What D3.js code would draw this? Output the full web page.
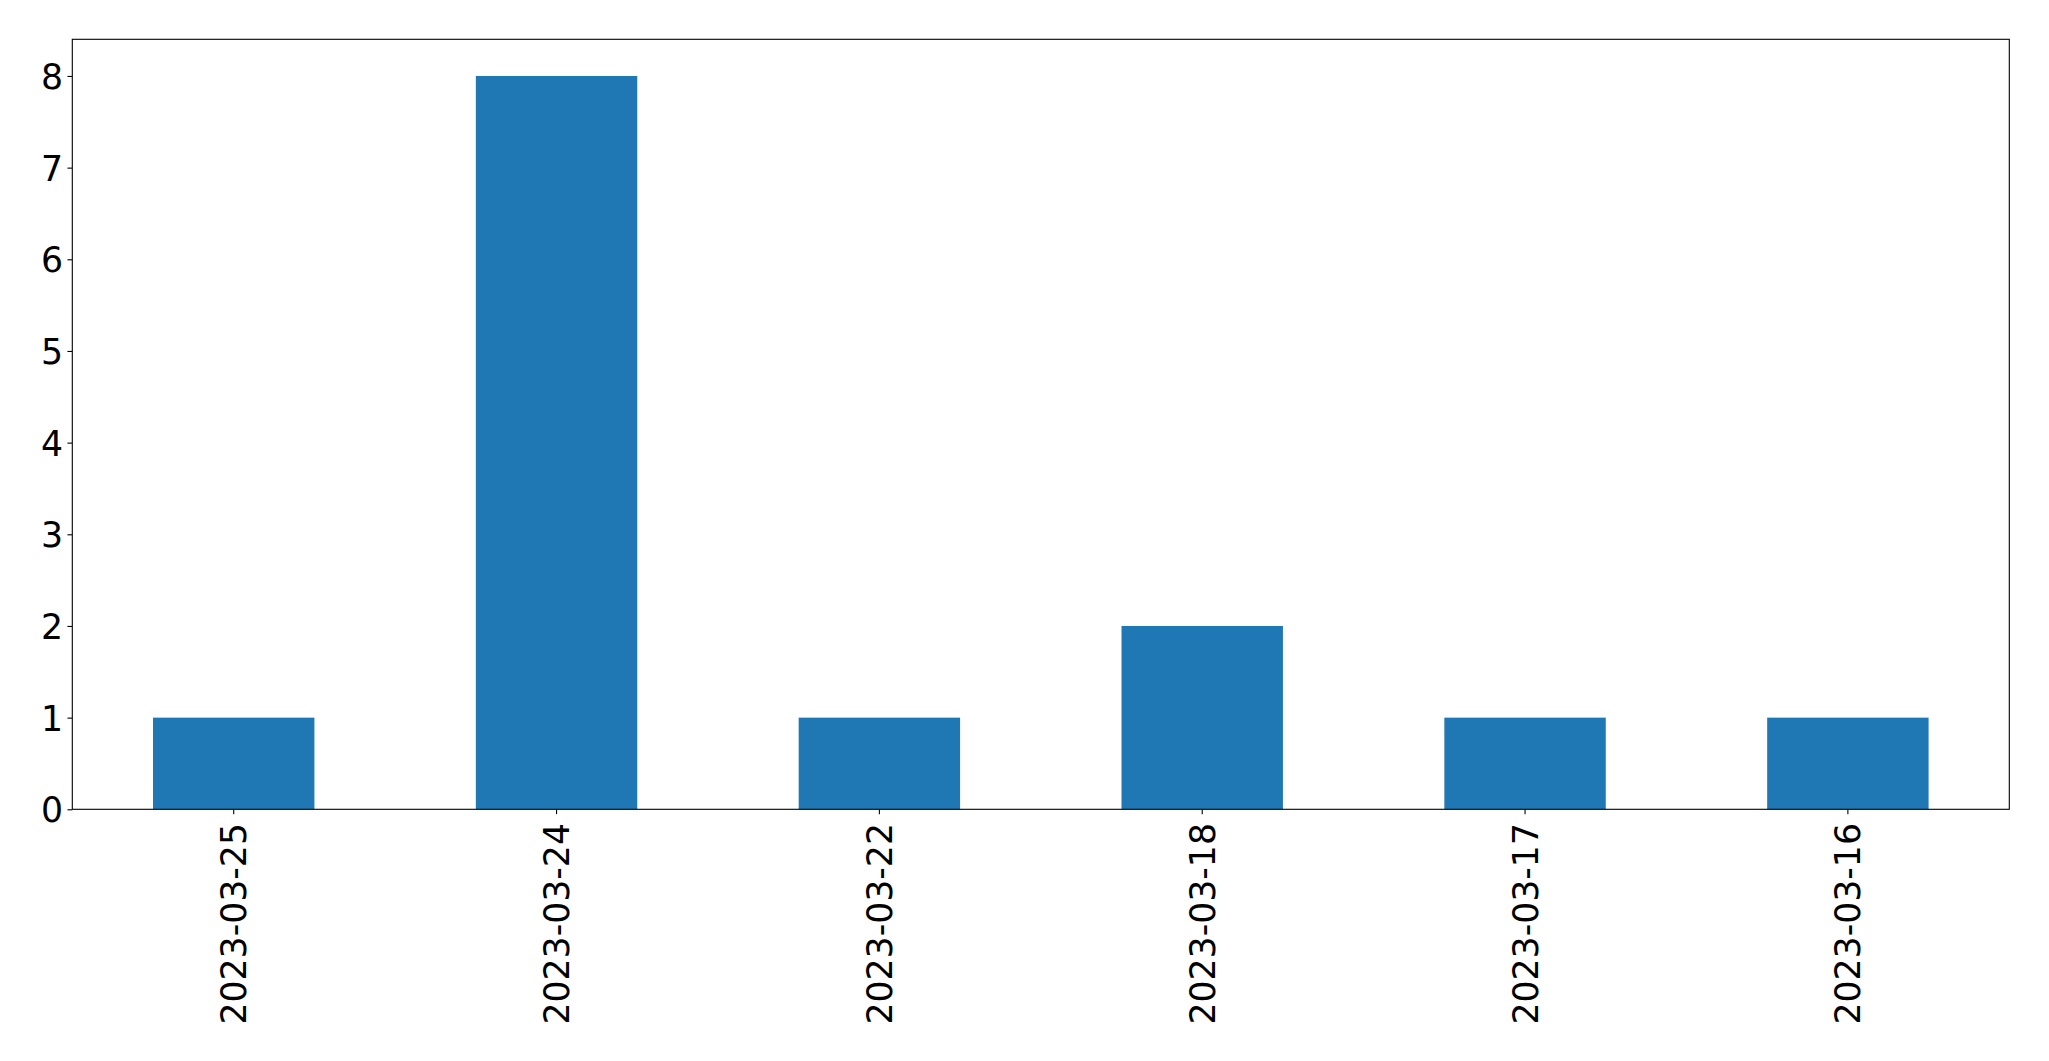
<!DOCTYPE html>
<html>
<head>
<meta charset="utf-8">
<script src="https://cdn.jsdelivr.net/npm/d3@7"></script>
<style>
html,body{margin:0;padding:0;background:#fff;}
svg{display:block;}
text{font-family:"DejaVu Sans",sans-serif;fill:#000;}
</style>
</head>
<body>
<script>
const categories = ["2023-03-25","2023-03-24","2023-03-22","2023-03-18","2023-03-17","2023-03-16"];
const values = [1,8,1,2,1,1];
const yTicks = [0,1,2,3,4,5,6,7,8];

(function(){
const W = 2049, H = 1061;
const mLeft = 72.3, mRight = 2009.3, mTop = 39.3, mBottom = 809.3;
const fs = 34.7;
const tickLen = 4.86, pad = 4.86;

const svg = d3.select("body").append("svg").attr("width", W).attr("height", H);

const x = d3.scaleBand().domain(categories).range([mLeft, mRight]).paddingInner(0.5).paddingOuter(0.25);
const y = d3.scaleLinear().domain([0, 8.4]).range([mBottom, mTop]);

svg.append("g").selectAll("rect").data(values).join("rect")
  .attr("x", (d,i) => x(categories[i]))
  .attr("width", x.bandwidth())
  .attr("y", d => y(d))
  .attr("height", d => y(0) - y(d))
  .attr("fill", "#1f77b4");

// y axis
const yAxis = d3.axisLeft(y).tickValues(yTicks).tickSize(tickLen).tickPadding(pad).tickFormat(d3.format("d"));
const gy = svg.append("g").attr("transform", `translate(${mLeft},0)`).call(yAxis);
gy.select(".domain").remove();
gy.selectAll(".tick line").attr("stroke", "#000").attr("stroke-width", 1.1);
gy.selectAll(".tick text").attr("font-size", fs).attr("font-family", "DejaVu Sans").attr("dy", "0.36em").attr("x", -(tickLen + pad) + 0.5);

// x axis
const xAxis = d3.axisBottom(x).tickSize(tickLen).tickPadding(pad);
const gx = svg.append("g").attr("transform", `translate(0,${mBottom})`).call(xAxis);
gx.select(".domain").remove();
gx.selectAll(".tick line").attr("stroke", "#000").attr("stroke-width", 1.1);
gx.selectAll(".tick text")
  .attr("font-size", fs).attr("font-family", "DejaVu Sans")
  .attr("text-anchor", "end")
  .attr("y", 0).attr("x", 0).attr("dy", "0.36em")
  .attr("transform", `translate(0,${tickLen + pad + 4}) rotate(-90)`);

// spines
svg.append("rect").attr("x", mLeft).attr("y", mTop).attr("width", mRight - mLeft).attr("height", mBottom - mTop)
  .attr("fill", "none").attr("stroke", "#000").attr("stroke-width", 1.1);
})();
</script>
</body>
</html>
